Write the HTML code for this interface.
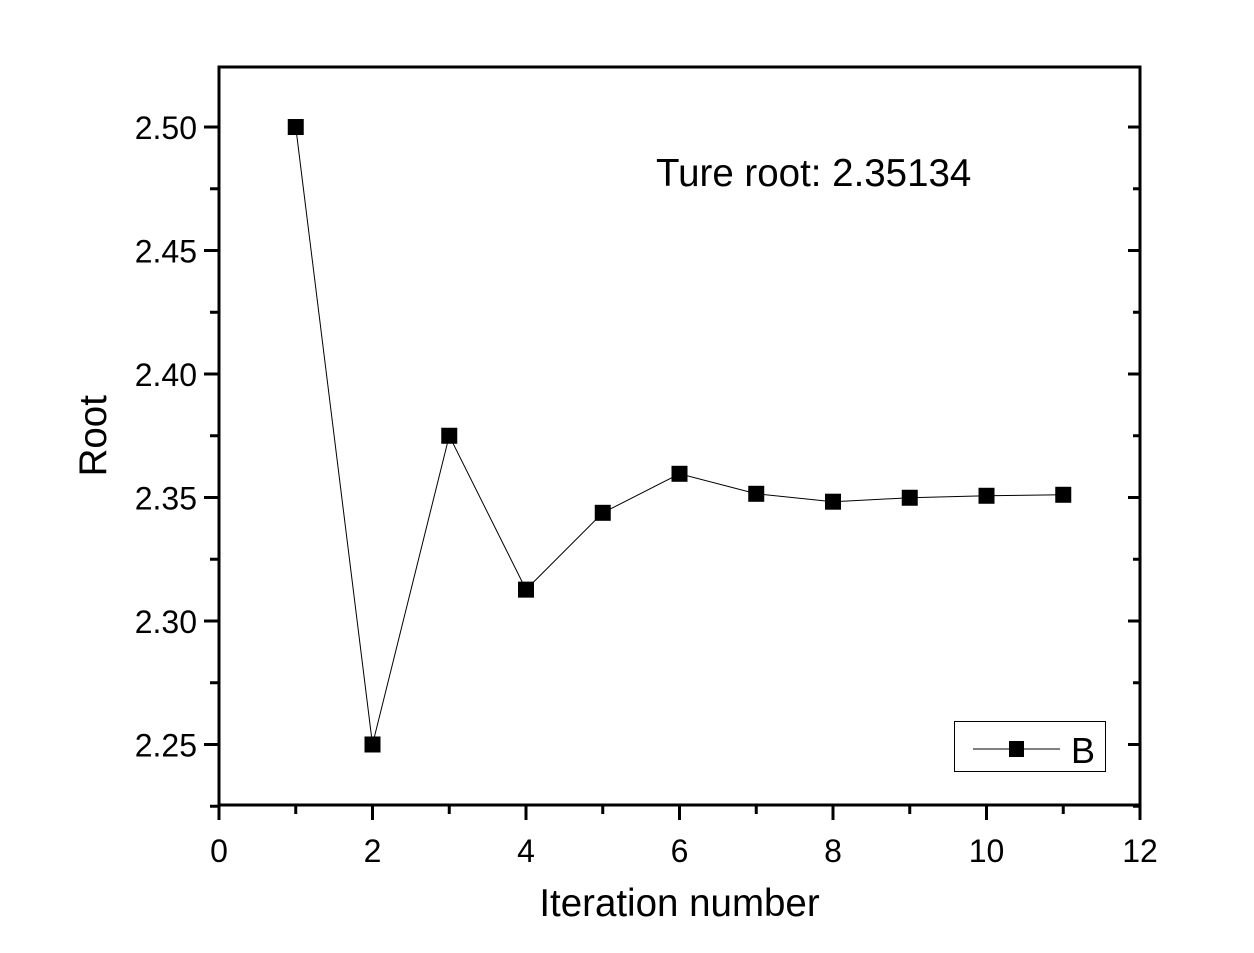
<!DOCTYPE html>
<html><head><meta charset="utf-8"><style>
body{margin:0;background:#fff;}
svg text{font-family:"Liberation Sans",Arial,sans-serif;fill:#000;}
</style></head><body>
<svg id="chart" width="1254" height="948" xmlns="http://www.w3.org/2000/svg"></svg>
<script>
const iterations=[1,2,3,4,5,6,7,8,9,10,11];
const rootValues=[2.5,2.25,2.375,2.3127,2.3438,2.3596,2.3515,2.3483,2.3499,2.3507,2.3511];
const xTicks=[0,2,4,6,8,10,12];
const yTicks=[2.25,2.30,2.35,2.40,2.45,2.50];
const yTickLabels=["2.25","2.30","2.35","2.40","2.45","2.50"];
const L=219,R=1140,T=67,B=805;
const xMin=0,xMax=12,yMin=2.2255,yMax=2.5243;
const sx=v=>L+(v-xMin)/(xMax-xMin)*(R-L);
const sy=v=>B-(v-yMin)/(yMax-yMin)*(B-T);
const svg=document.getElementById('chart');
const NS='http://www.w3.org/2000/svg';
function mk(tag,attrs,parent){const e=document.createElementNS(NS,tag);for(const k in attrs)e.setAttribute(k,attrs[k]);(parent||svg).appendChild(e);return e;}
let e;
e=mk('rect',{x:L,y:T,width:R-L,height:B-T,fill:'none',stroke:'#000','stroke-width':3});


for(let v=0;v<=12;v+=1){const major=v%2===0;
e=mk('line',{x1:sx(v),x2:sx(v),y1:B,y2:B+(major?15:9),stroke:'#000','stroke-width':3});

}
xTicks.forEach(v=>{e=mk('text',{x:sx(v),y:B+57,'font-size':32,'text-anchor':'middle'});e.textContent=v;

});
for(let i=0;i<12;i++){const v=2.225+i*0.025;if(v>yMax)break;const major=i%2===1;
e=mk('line',{x1:L,x2:L-(major?15:9),y1:sy(v),y2:sy(v),stroke:'#000','stroke-width':3});


e=mk('line',{x1:R,x2:R-(major?12:7),y1:sy(v),y2:sy(v),stroke:'#000','stroke-width':3});

}
yTicks.forEach((v,i)=>{e=mk('text',{x:L-22,y:sy(v)+12,'font-size':32,'text-anchor':'end'});e.textContent=yTickLabels[i];

});
e=mk('text',{x:sx(6),y:916,'font-size':38.5,'text-anchor':'middle'});e.textContent='Iteration number';


e=mk('text',{x:106,y:sy(2.375),'font-size':38.5,'text-anchor':'middle',transform:'rotate(-90 106 '+sy(2.375)+')'});e.textContent='Root';


e=mk('polyline',{points:iterations.map((x,i)=>sx(x)+','+sy(rootValues[i])).join(' '),fill:'none',stroke:'#000','stroke-width':1});


iterations.forEach((x,i)=>{e=mk('rect',{x:sx(x)-8,y:sy(rootValues[i])-8,width:16,height:16,fill:'#000'});

});
e=mk('text',{x:656,y:186,'font-size':38.5});e.textContent='Ture root: 2.35134';


const g=mk('g',{});


mk('rect',{x:954.5,y:721.5,width:151,height:50,fill:'#fff',stroke:'#000','stroke-width':1},g);
mk('line',{x1:973,x2:1060,y1:749,y2:749,stroke:'#000','stroke-width':1},g);
mk('rect',{x:1009,y:741,width:15,height:16,fill:'#000'},g);
e=mk('text',{x:1071,y:763,'font-size':36},g);e.textContent='B';


</script>
</body></html>
